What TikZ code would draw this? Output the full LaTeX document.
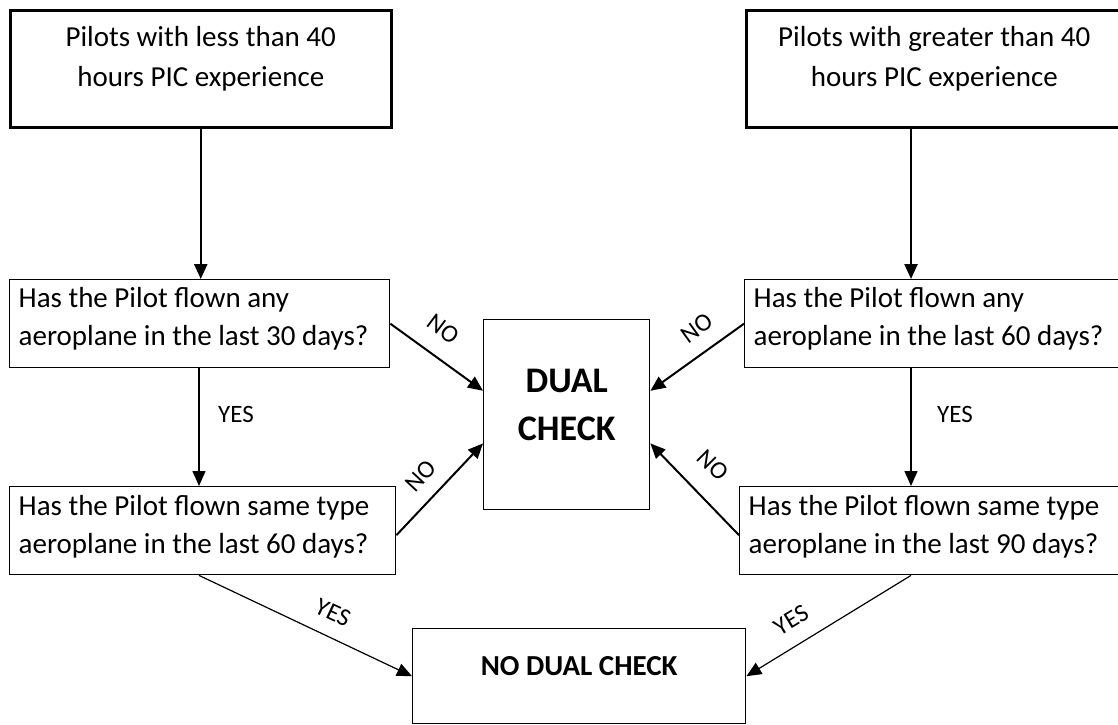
\documentclass[tikz,border=0pt]{standalone}
\usepackage{fontspec}
\setmainfont{Carlito}
\usetikzlibrary{arrows.meta,calc}
\newcommand{\leftlines}[3]{\begin{tabular}[t]{@{}p{#1}@{}}#2\\#3\end{tabular}}
\newcommand{\midlines}[2]{\begin{tabular}[t]{@{}c@{}}#1\\#2\end{tabular}}
\begin{document}
\begin{tikzpicture}[x=1pt,y=-1pt,
  box/.style={draw=black, line width=1.4pt, rectangle, inner xsep=0pt, inner ysep=0pt, anchor=north west},
  qbox/.style={box, inner xsep=9pt, font=\fontsize{29}{37.5}\selectfont},
  topbox/.style={box, line width=2.5pt, font=\fontsize{29}{40.5}\selectfont},
  lab/.style={font=\fontsize{25}{25}\selectfont, inner sep=0pt},
  tip/.style={-{Triangle[length=15pt,width=13pt]}},
  toparrow/.style={tip, line width=2.4pt},
  noarrow/.style={tip, line width=2pt},
  yesarrow/.style={tip, line width=1.5pt},
  diagarrow/.style={tip, line width=1.2pt}]
\clip (0,0) rectangle (1118,724);
\fill[white] (0,0) rectangle (1118,724);
% top boxes
\node[topbox, minimum width=381pt, text height=36pt, text depth=81pt] (tl) at (9,9)
  {\midlines{Pilots with less than 40}{hours PIC experience}};
\node[topbox, minimum width=376pt, text height=36pt, text depth=81pt] (tr) at (745,9)
  {\midlines{Pilots with greater than 40}{hours PIC experience}};
% question boxes
\node[qbox, text height=28pt, text depth=60pt] (q1l) at (9,279)
  {\leftlines{362pt}{Has the Pilot flown any}{aeroplane in the last 30 days?}};
\node[qbox, text height=29pt, text depth=59pt] (q2l) at (9,486)
  {\leftlines{368pt}{Has the Pilot flown same type}{aeroplane in the last 60 days?}};
\node[qbox, text height=28pt, text depth=60pt] (q1r) at (744,279)
  {\leftlines{362pt}{Has the Pilot flown any}{aeroplane in the last 60 days?}};
\node[qbox, text height=29pt, text depth=59pt] (q2r) at (739,486)
  {\leftlines{368pt}{Has the Pilot flown same type}{aeroplane in the last 90 days?}};
% result boxes
\node[box, minimum width=166pt, text height=73pt, text depth=117pt,
  font=\fontsize{36}{48}\selectfont\bfseries] (dc) at (483,319)
  {\midlines{DUAL}{CHECK}};
\node[box, minimum width=333pt, text height=47pt, text depth=48pt,
  font=\fontsize{29}{36}\selectfont\bfseries] (nd) at (412,628)
  {NO DUAL CHECK};
% helper x positions
\coordinate (la) at (199,0);
\coordinate (ra) at (911,0);
% connectors
\draw[toparrow] (tl.south) -- (q1l.north -| tl.south);
\draw[toparrow] (tr.south -| ra) -- (q1r.north -| ra);
\draw[yesarrow] (q1l.south -| la) -- (q2l.north -| la);
\draw[yesarrow] (q1r.south -| ra) -- (q2r.north -| ra);
\draw[noarrow] (q1l.east) -- ($(dc.west)!0.25!(dc.north west)$);
\draw[noarrow] ($(q2l.east)!0.1!(q2l.south east)$) -- ($(dc.west)!0.3!(dc.south west)$);
\draw[noarrow] (q1r.west) -- ($(dc.east)!0.25!(dc.north east)$);
\draw[noarrow] ($(q2r.west)!0.1!(q2r.south west)$) -- ($(dc.east)!0.3!(dc.south east)$);
\draw[diagarrow] (q2l.south -| la) -- (nd.west);
\draw[diagarrow] (q2r.south -| ra) -- (nd.east);
% labels
\node[lab] (y1) at (236,414) {YES};
\node[lab] (y2) at (955,414) {YES};
\node[lab, rotate=-37] (n1) at (443,329) {NO};
\node[lab, rotate=47] (n2) at (421,476) {NO};
\node[lab, rotate=36] (n3) at (697,328) {NO};
\node[lab, rotate=-45] (n4) at (713,465) {NO};
\node[lab, rotate=-25] (y3) at (333,613) {YES};
\node[lab, rotate=31] (y4) at (791,620) {YES};
\end{tikzpicture}
\end{document}
